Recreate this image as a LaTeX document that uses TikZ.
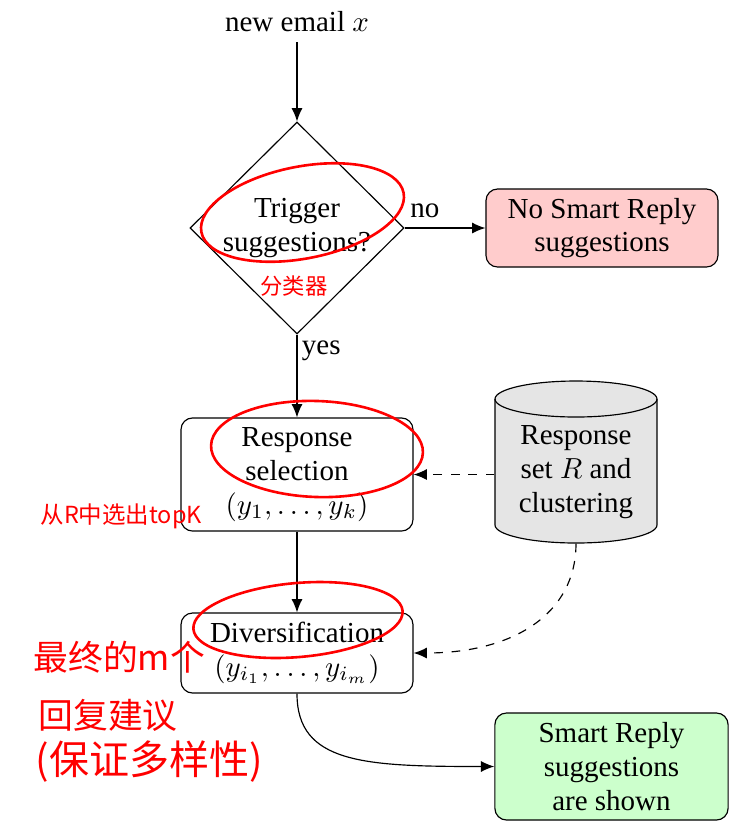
\documentclass[tikz,border=0pt]{standalone}
\usepackage{fontspec}
\setmainfont{Liberation Serif}
\newfontfamily\cjk{Noto Sans CJK SC}
\usetikzlibrary{shapes.geometric,arrows.meta}
\begin{document}
\begin{tikzpicture}[x=0.3448pt, y=-0.3448pt,
  every node/.style={font=\fontsize{10}{11.6}\selectfont},
  box/.style={draw, rounded corners=4pt, align=center, inner sep=0pt, minimum width=80pt},
  arr/.style={-{Latex[length=4.6pt,width=3.8pt]}},
  note/.style={text=red, anchor=west, inner sep=0pt},
  ring/.style={red, line width=0.9pt}]
\useasboundingbox (0,0) rectangle (754,838);

% main nodes
\node (email) at (297,22) {new email $x$};
\node[diamond, draw, minimum width=73.8pt, minimum height=73.1pt, inner sep=0pt] (trig) at (297,228) {};
\node[align=center] (trigtxt) at (297,228) {Trigger\\suggestions?};
\node[box, fill=red!20, minimum height=26.9pt] (nosr) at (602,228) {No Smart Reply\\suggestions};
\node[box, minimum height=39pt] (resp) at (297,474.5) {Response\\selection\\$(y_1,\ldots,y_k)$};
\node[box, minimum height=27.6pt] (div) at (297,653) {Diversification\\$(y_{i_1},\ldots,y_{i_m})$};
\node[box, fill=green!20, minimum height=36.9pt, minimum width=80.4pt] (shown) at (611.5,766.5) {Smart Reply\\suggestions\\are shown};

% cylinder
\node[minimum width=55.9pt, minimum height=55.9pt, inner sep=0pt] (rset) at (576,462) {};
\path[draw, fill=gray!20] (495,399) -- (495,525)
  arc[start angle=180, end angle=0, x radius=81, y radius=18] -- (657,399)
  arc[start angle=0, end angle=-180, x radius=81, y radius=18] -- cycle;
\draw (495,399) arc[start angle=180, end angle=0, x radius=81, y radius=18];
\node[align=center] (rsettxt) at (576,472) {Response\\set $R$ and\\clustering};

% connectors
\draw[arr] (email) -- (trig.north);
\draw[arr] (trig.east) -- node[above, pos=0.25] (nolab) {no} (nosr.west);
\draw[arr] (trig.south) -- node[right, pos=0.2, inner sep=1.5pt] (yeslab) {yes} (resp.north);
\draw[arr] (resp) -- (div);
\draw[arr, dashed] (rset.west |- resp.east) -- (resp.east);
\draw[arr, dashed] (rset.south) .. controls +(0,70) and +(100,0) .. (div.east);
\draw[arr] (div.south) .. controls +(0,70) and +(-130,0) .. (shown.west);

% red annotations
\draw[ring, rotate around={11:(302.5,212.5)}] (302.5,212.5) ellipse [x radius=103, y radius=46];
\draw[ring, rotate around={-2:(317,449)}] (317,449) ellipse [x radius=106, y radius=48];
\draw[ring, rotate around={5:(298,620)}] (298,620) ellipse [x radius=105, y radius=37];
\node[note, font=\cjk\fontsize{7.7}{9}\selectfont] (n1) at (260,286) {分类器};
\node[note, font=\cjk\fontsize{8.1}{9}\selectfont] (n2) at (40,516) {从R中选出topK};
\node[note, font=\cjk\fontsize{12}{14}\selectfont] (n3) at (33,657) {最终的m个};
\node[note, font=\cjk\fontsize{12}{14}\selectfont] (n4) at (38,715) {回复建议};
\node[note, font=\cjk\fontsize{13.8}{15}\selectfont] (n5) at (35,762) {(保证多样性)};
\end{tikzpicture}
\end{document}
